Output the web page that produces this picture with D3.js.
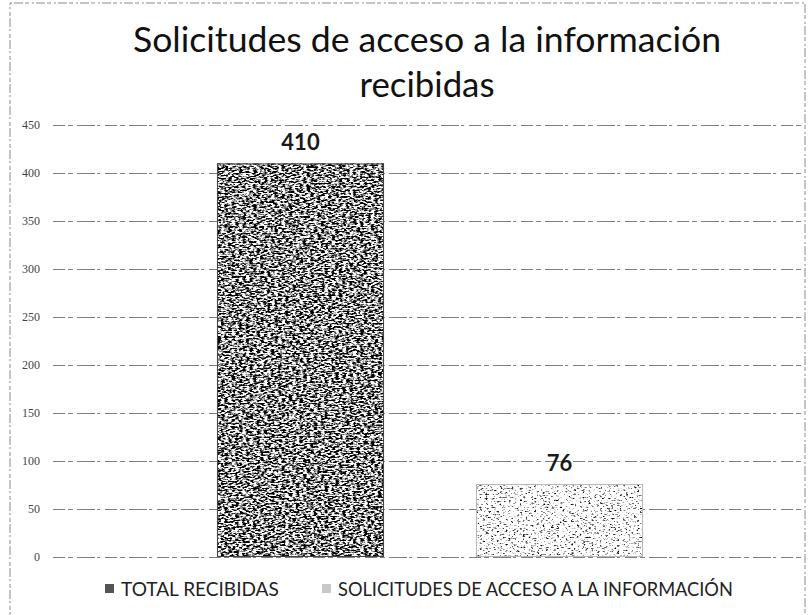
<!DOCTYPE html>
<html>
<head>
<meta charset="utf-8">
<script src="https://cdn.jsdelivr.net/npm/d3@7"></script>
<style>
  html, body { margin: 0; padding: 0; background: #fff; }
  svg { display: block; }
</style>
</head>
<body>
<div id="chart"></div>
<script>
// chart data
const titleLines = ["Solicitudes de acceso a la información", "recibidas"];
const categories = ["TOTAL RECIBIDAS", "SOLICITUDES DE ACCESO A LA INFORMACIÓN"];
const values = [410, 76];
const yTicks = [0, 50, 100, 150, 200, 250, 300, 350, 400, 450];

const width = 808, height = 615;
const plot = {left: 53, right: 805, top: 125, bottom: 557};

const svg = d3.select("#chart").append("svg")
  .attr("width", width)
  .attr("height", height);

// scanned-paper grain for the bars
const defs = svg.append("defs");
function grain(id, gain, offset, freq, seed) {
  const f = defs.append("filter")
    .attr("id", id)
    .attr("x", 0).attr("y", 0).attr("width", 1).attr("height", 1)
    .attr("color-interpolation-filters", "sRGB");
  f.append("feTurbulence")
    .attr("type", "fractalNoise")
    .attr("baseFrequency", freq)
    .attr("numOctaves", 2)
    .attr("seed", seed)
    .attr("result", "noise");
  const row = `${gain} 0 0 0 ${offset}`;
  f.append("feColorMatrix")
    .attr("in", "noise")
    .attr("type", "matrix")
    .attr("values", `${row} ${row} ${row} 0 0 0 0 1`)
    .attr("result", "grey");
  f.append("feComposite")
    .attr("in", "grey")
    .attr("in2", "SourceGraphic")
    .attr("operator", "in");
}
grain("grainDark", 5, -1.95, "0.28 0.6", 4);
grain("grainLight", 4.5, -0.95, "0.35 0.7", 9);
const grains = ["url(#grainDark)", "url(#grainLight)"];
const edges = ["#444", "#b8b8b8"];
const legendFill = ["#555", "#c8c8c8"];

// outer frame of the pasted chart
svg.append("rect")
  .attr("x", 10).attr("y", 3)
  .attr("width", 795).attr("height", 660)
  .attr("fill", "none")
  .attr("stroke", "#8a8a8a")
  .attr("stroke-width", 1)
  .attr("stroke-dasharray", "2,2,9,2,4,3");

// scales
const y = d3.scaleLinear().domain([0, 450]).range([plot.bottom, plot.top]);
const x = d3.scaleBand()
  .domain(categories)
  .range([171, 689])
  .paddingInner(0.355)
  .paddingOuter(0.1775);

// gridlines
svg.append("g")
  .attr("class", "grid")
  .selectAll("line")
  .data(yTicks)
  .join("line")
  .attr("x1", plot.left)
  .attr("x2", plot.right)
  .attr("y1", d => y(d) + 0.5)
  .attr("y2", d => y(d) + 0.5)
  .attr("stroke", "#808080")
  .attr("stroke-width", 1)
  .attr("stroke-dasharray", "12,3,5,4,18,2,3,5");

// y axis labels
const yAxis = svg.append("g")
  .attr("transform", `translate(${plot.left},0)`)
  .call(d3.axisLeft(y).tickValues(yTicks).tickSize(0).tickPadding(13));
yAxis.select(".domain").remove();
yAxis.selectAll("text")
  .attr("fill", "#444")
  .style("font-family", "'Liberation Serif', serif")
  .style("font-size", "12px");

// bars
svg.append("g")
  .selectAll("rect")
  .data(values)
  .join("rect")
  .attr("x", (d, i) => x(categories[i]))
  .attr("y", d => y(d))
  .attr("width", x.bandwidth())
  .attr("height", d => y(0) - y(d))
  .attr("fill", "#000")
  .attr("filter", (d, i) => grains[i]);

svg.append("g")
  .selectAll("rect")
  .data(values)
  .join("rect")
  .attr("x", (d, i) => x(categories[i]) + 0.5)
  .attr("y", d => y(d) + 0.5)
  .attr("width", x.bandwidth() - 1)
  .attr("height", d => y(0) - y(d) - 1)
  .attr("fill", "none")
  .attr("stroke", (d, i) => edges[i])
  .attr("stroke-width", 1);

// value labels
svg.append("g")
  .selectAll("text")
  .data(values)
  .join("text")
  .attr("x", (d, i) => x(categories[i]) + x.bandwidth() / 2)
  .attr("y", d => y(d) - 13)
  .attr("text-anchor", "middle")
  .style("font-family", "Lato, 'Open Sans', sans-serif")
  .style("font-weight", "bold")
  .style("font-size", "22px")
  .attr("fill", "#1a1a1a")
  .text(d => d);

// scale a text's font so it spans the measured width
function fit(sel, target) {
  const s = parseFloat(sel.style("font-size"));
  const w = sel.node().getComputedTextLength();
  sel.style("font-size", (s * target / w).toFixed(2) + "px");
}

// title
const titleWidths = [588, 135];
const titleBase = [52, 97];
titleLines.forEach((t, i) => {
  const txt = svg.append("text")
    .attr("x", 427)
    .attr("y", titleBase[i])
    .attr("text-anchor", "middle")
    .style("font-family", "Lato, 'Open Sans', sans-serif")
    .style("font-size", "36px")
    .attr("fill", "#111")
    .text(t);
  fit(txt, titleWidths[i]);
});

// legend
const legendX = [105, 322];
const legendWidths = [158, 395];
const legend = svg.append("g").attr("class", "legend");
categories.forEach((c, i) => {
  legend.append("rect")
    .attr("x", legendX[i])
    .attr("y", 584)
    .attr("width", 9)
    .attr("height", 9)
    .attr("fill", legendFill[i]);
  const txt = legend.append("text")
    .attr("x", legendX[i] + 16)
    .attr("y", 596)
    .style("font-family", "Lato, 'Open Sans', sans-serif")
    .style("font-size", "19px")
    .attr("fill", "#222")
    .text(c);
  fit(txt, legendWidths[i]);
});
</script>
</body>
</html>
